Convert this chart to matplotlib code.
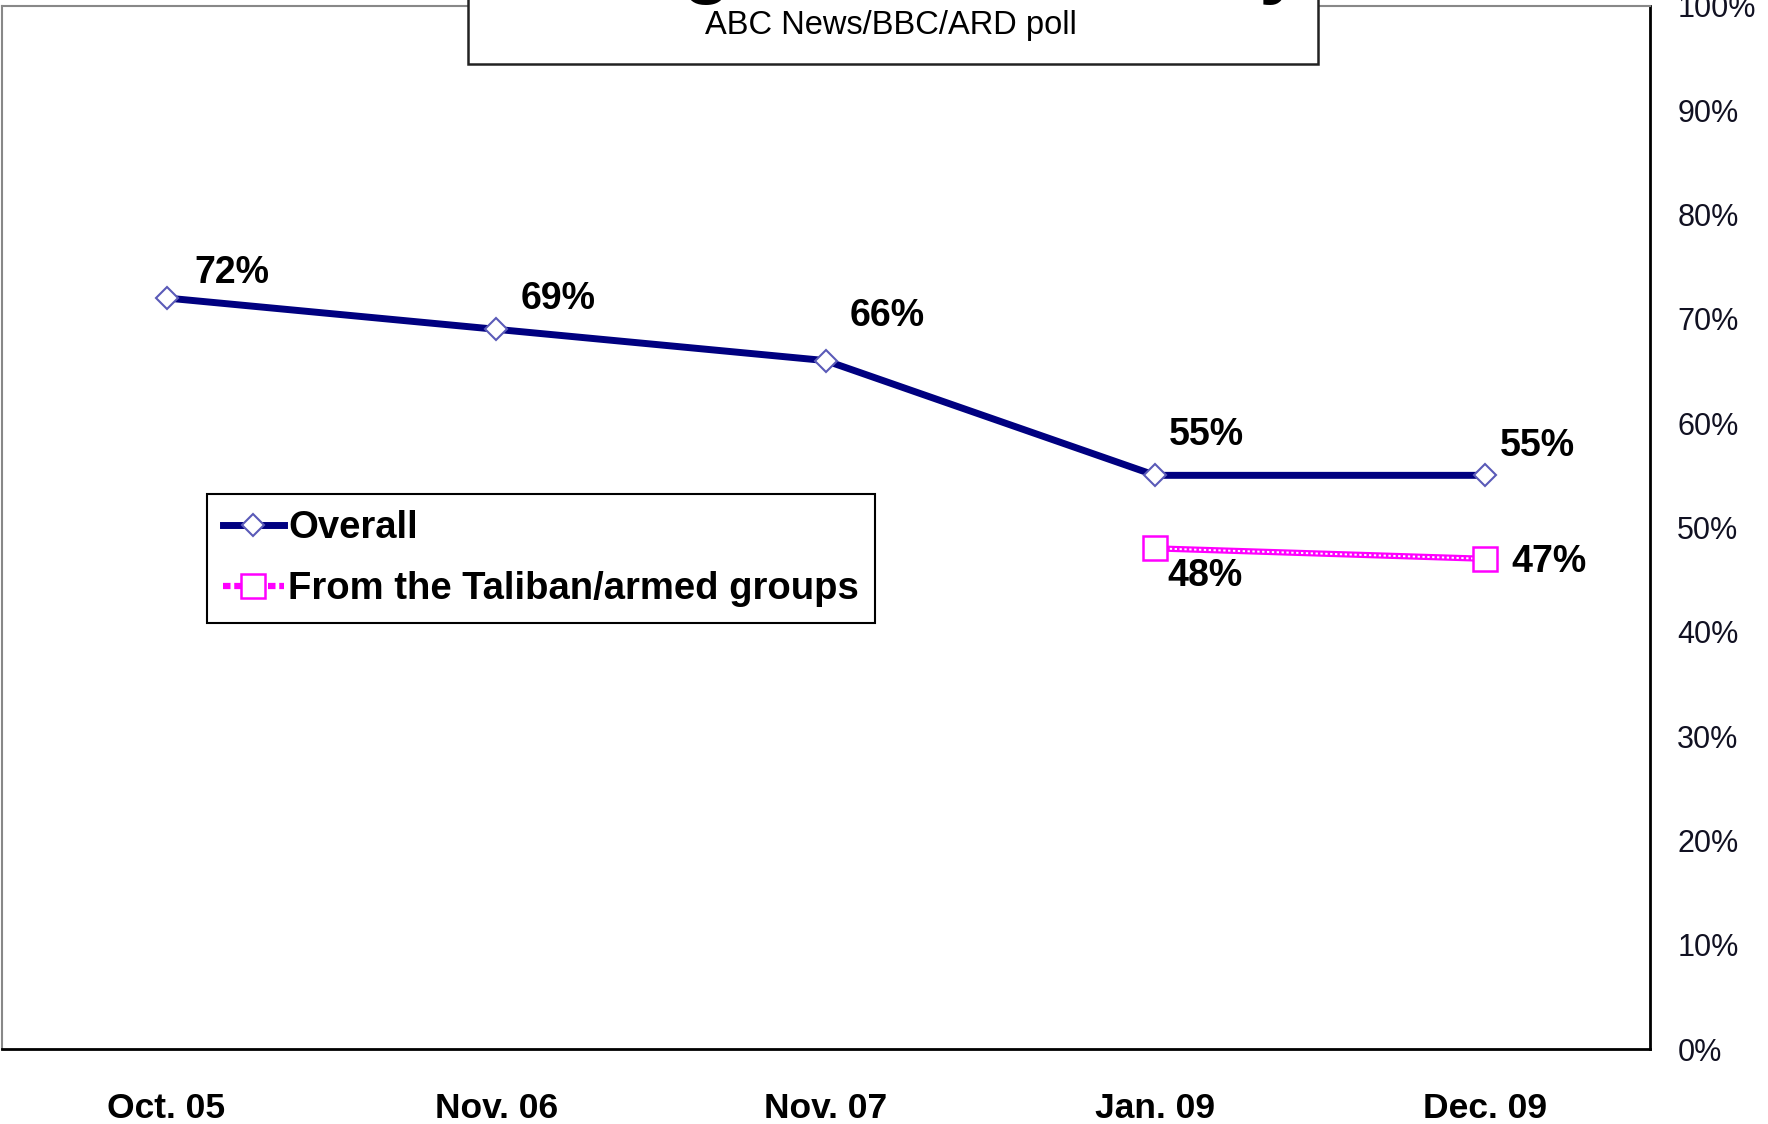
import matplotlib
matplotlib.use("Agg")
import matplotlib.pyplot as plt
from matplotlib.patches import Rectangle
from matplotlib.lines import Line2D

plt.rcParams['font.family'] = ['Liberation Sans', 'DejaVu Sans']

# data
periods = ['Oct. 05', 'Nov. 06', 'Nov. 07', 'Jan. 09', 'Dec. 09']
overall = [72, 69, 66, 55, 55]
taliban_idx = [3, 4]
taliban = [48, 47]
yticks = list(range(0, 101, 10))

# label offsets in points (dx, dy)
overall_off = [(47, 18), (45, 22), (44, 32), (37, 29), (38, 21)]
taliban_off = [(36, -20), (46, -2)]

fig = plt.figure(figsize=(17.68, 11.24), dpi=100)
ax = fig.add_axes([0.001, 0.0667, 0.932, 0.928])

x = list(range(len(periods)))
ax.plot(x, overall, '-', color='#000080', lw=5, marker='D', ms=11.5,
        mfc='white', mec='#5a5ab8', mew=1.5, zorder=3)
ax.plot(taliban_idx, taliban, '-', color='#ff00ff', lw=4.5, zorder=3)
# dotted look inside the pink line
ax.plot(taliban_idx, taliban, color='white', lw=1.4, dashes=(1.2, 1.3), zorder=3.5)
ax.plot(taliban_idx, taliban, 's', ms=17, mfc='white', mec='#ff00ff', mew=1.8, zorder=4)

for xi, v, off in zip(x, overall, overall_off):
    ax.annotate(f'{v}%', (xi, v), xytext=off, textcoords='offset points',
                ha='center', va='center', fontsize=27, fontweight='bold')
for xi, v, off in zip(taliban_idx, taliban, taliban_off):
    ax.annotate(f'{v}%', (xi, v), xytext=off, textcoords='offset points',
                ha='center', va='center', fontsize=27, fontweight='bold')

ax.set_xlim(-0.5, 4.5)
ax.set_ylim(0, 100)
ax.set_xticks(x)
ax.set_xticklabels(periods, fontsize=25.5, fontweight='bold')
ax.set_yticks(yticks)
ax.set_yticklabels([f'{t}%' for t in yticks], fontsize=22, color='#111122')
ax.yaxis.tick_right()
ax.tick_params(axis='y', length=0, pad=20)
ax.tick_params(axis='x', length=0, pad=31)

for s in ['top', 'left']:
    ax.spines[s].set_color('#888888')
    ax.spines[s].set_linewidth(1.5)
for s in ['right', 'bottom']:
    ax.spines[s].set_color('black')
    ax.spines[s].set_linewidth(2)

h_overall = Line2D([], [], color='#000080', lw=5, marker='D', ms=11.5,
                   mfc='white', mec='#5a5ab8', mew=1.5)
h_taliban = Line2D([], [], color='#ff00ff', lw=4.5, ls=(0, (1.2, 0.6)), marker='s', ms=17,
                   mfc='white', mec='#ff00ff', mew=1.8)
leg = ax.legend([h_overall, h_taliban], ['Overall', 'From the Taliban/armed groups'],
                loc='upper left', bbox_to_anchor=(0.1244, 0.532), borderaxespad=0,
                prop={'weight': 'bold', 'size': 27.5}, handlelength=1.6,
                handletextpad=0.12, labelspacing=0.66, borderpad=0.42,
                fancybox=False, framealpha=1, edgecolor='black')
leg.get_frame().set_linewidth(1.5)

# title box, partly above the top of the picture
fig.add_artist(Rectangle((0.2647, 0.943), 0.4808, 0.1, transform=fig.transFigure,
                         facecolor='white', edgecolor='#222222', lw=1.8, zorder=5))
fig.text(0.505, 1.011, 'Rating Local Security', ha='center', va='baseline',
         fontsize=58, fontweight='bold', zorder=6)
fig.text(0.504, 0.977, 'ABC News/BBC/ARD poll', ha='center', va='center',
         fontsize=23.5, zorder=6)

fig.savefig('out.png', dpi=100)
